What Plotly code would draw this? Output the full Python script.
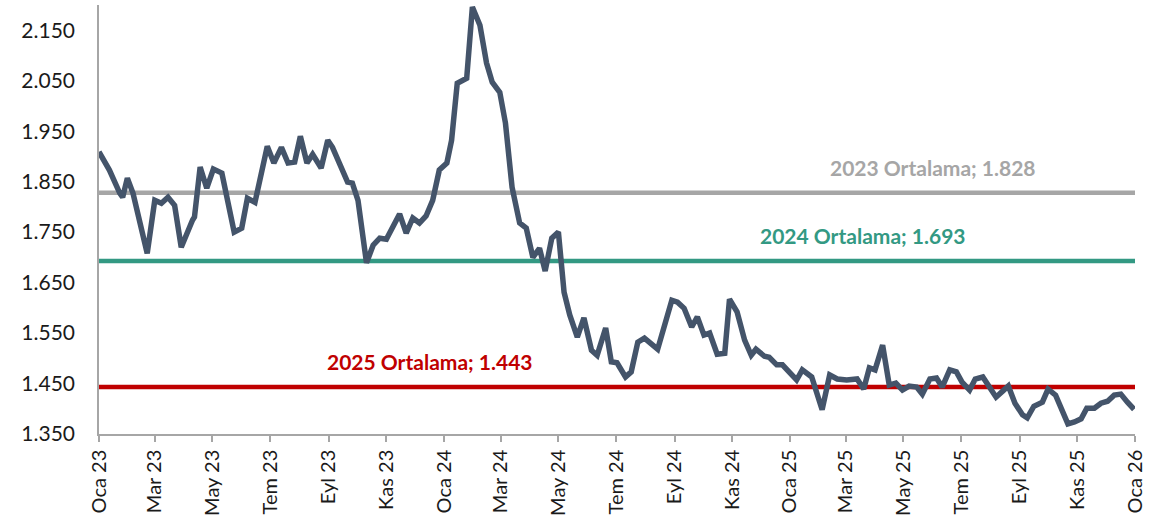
import plotly.graph_objects as go

dates = [
    "2023-01-01", "2023-01-12", "2023-01-23", "2023-01-26", "2023-01-31", "2023-02-06", "2023-02-21",
    "2023-03-01", "2023-03-08", "2023-03-15", "2023-03-22", "2023-03-29", "2023-04-10", "2023-04-12",
    "2023-04-18", "2023-04-25", "2023-05-02", "2023-05-11", "2023-05-24", "2023-06-01", "2023-06-07",
    "2023-06-15", "2023-06-28", "2023-07-05", "2023-07-13", "2023-07-20", "2023-07-27", "2023-08-02",
    "2023-08-09", "2023-08-15", "2023-08-24", "2023-08-31", "2023-09-05", "2023-09-12", "2023-09-21",
    "2023-09-26", "2023-10-02", "2023-10-11", "2023-10-18", "2023-10-25", "2023-11-01", "2023-11-15",
    "2023-11-22", "2023-11-29", "2023-12-06", "2023-12-13", "2023-12-20", "2023-12-27",
    "2024-01-04", "2024-01-09", "2024-01-15", "2024-01-25", "2024-01-31", "2024-02-08", "2024-02-15",
    "2024-02-21", "2024-02-29", "2024-03-06", "2024-03-13", "2024-03-21", "2024-03-28", "2024-04-04",
    "2024-04-11", "2024-04-17", "2024-04-24", "2024-05-01", "2024-05-07", "2024-05-13", "2024-05-21",
    "2024-05-28", "2024-06-05", "2024-06-11", "2024-06-20", "2024-06-26", "2024-07-02", "2024-07-11",
    "2024-07-17", "2024-07-24", "2024-07-31", "2024-08-14", "2024-08-29", "2024-09-04", "2024-09-11",
    "2024-09-19", "2024-09-25", "2024-10-02", "2024-10-08", "2024-10-16", "2024-10-24", "2024-10-29",
    "2024-11-06", "2024-11-14", "2024-11-21", "2024-11-26", "2024-12-05", "2024-12-10", "2024-12-18",
    "2024-12-24",
    "2025-01-02", "2025-01-08", "2025-01-14", "2025-01-24", "2025-02-04", "2025-02-12", "2025-02-20",
    "2025-03-02", "2025-03-13", "2025-03-20", "2025-03-26", "2025-04-01", "2025-04-09", "2025-04-16",
    "2025-04-23", "2025-04-30", "2025-05-07", "2025-05-15", "2025-05-21", "2025-05-29", "2025-06-05",
    "2025-06-11", "2025-06-19", "2025-06-26", "2025-07-02", "2025-07-10", "2025-07-16", "2025-07-24",
    "2025-07-31", "2025-08-07", "2025-08-14", "2025-08-20", "2025-08-27", "2025-09-04", "2025-09-09",
    "2025-09-16", "2025-09-25", "2025-10-01", "2025-10-09", "2025-10-16", "2025-10-22", "2025-10-29",
    "2025-11-05", "2025-11-11", "2025-11-19", "2025-11-26", "2025-12-03", "2025-12-10", "2025-12-17",
    "2025-12-24", "2025-12-31",
]

values = [
    1.909, 1.873, 1.827, 1.819, 1.857, 1.827, 1.708,
    1.813, 1.807, 1.819, 1.803, 1.720, 1.774, 1.780,
    1.879, 1.837, 1.875, 1.867, 1.750, 1.758, 1.817,
    1.809, 1.920, 1.887, 1.918, 1.887, 1.889, 1.940,
    1.887, 1.904, 1.877, 1.932, 1.918, 1.889, 1.849,
    1.847, 1.813, 1.689, 1.724, 1.738, 1.736, 1.786,
    1.748, 1.778, 1.768, 1.782, 1.813, 1.873,
    1.887, 1.932, 2.045, 2.055, 2.196, 2.160, 2.085,
    2.047, 2.027, 1.966, 1.839, 1.768, 1.758, 1.700,
    1.718, 1.673, 1.738, 1.750, 1.631, 1.586, 1.542,
    1.580, 1.516, 1.506, 1.560, 1.493, 1.491, 1.463,
    1.473, 1.532, 1.540, 1.518, 1.615, 1.611, 1.599,
    1.562, 1.582, 1.546, 1.550, 1.508, 1.510, 1.617,
    1.592, 1.536, 1.506, 1.518, 1.504, 1.502, 1.487,
    1.487,
    1.467, 1.457, 1.477, 1.463, 1.398, 1.467, 1.459,
    1.457, 1.459, 1.439, 1.481, 1.477, 1.526, 1.447,
    1.451, 1.437, 1.445, 1.443, 1.429, 1.459, 1.461,
    1.443, 1.477, 1.473, 1.453, 1.437, 1.459, 1.463,
    1.443, 1.423, 1.435, 1.445, 1.411, 1.388, 1.382,
    1.405, 1.413, 1.439, 1.427, 1.398, 1.370, 1.374,
    1.380, 1.401, 1.401, 1.411, 1.415, 1.427, 1.429,
    1.413, 1.399,
]

avg_labels = ["2023 Ortalama; 1.828", "2024 Ortalama; 1.693", "2025 Ortalama; 1.443"]
avg_values = [1.828, 1.693, 1.443]
avg_colors = ["#A6A6A6", "#339983", "#C00000"]
avg_label_x = ["2025-06-01", "2025-03-19", "2023-12-17"]
line_span = ["2023-01-01", "2026-01-01"]

tick_dates = [
    "2023-01-01", "2023-03-01", "2023-05-01", "2023-07-01", "2023-09-01", "2023-11-01",
    "2024-01-01", "2024-03-01", "2024-05-01", "2024-07-01", "2024-09-01", "2024-11-01",
    "2025-01-01", "2025-03-01", "2025-05-01", "2025-07-01", "2025-09-01", "2025-11-01",
    "2026-01-01",
]
tick_labels = [
    "Oca 23", "Mar 23", "May 23", "Tem 23", "Eyl 23", "Kas 23",
    "Oca 24", "Mar 24", "May 24", "Tem 24", "Eyl 24", "Kas 24",
    "Oca 25", "Mar 25", "May 25", "Tem 25", "Eyl 25", "Kas 25",
    "Oca 26",
]
y_ticks = [1.35, 1.45, 1.55, 1.65, 1.75, 1.85, 1.95, 2.05, 2.15]

FONT = "Lato, Noto Sans, sans-serif"

fig = go.Figure()

for lbl, val, col in zip(avg_labels, avg_values, avg_colors):
    fig.add_trace(go.Scatter(
        x=line_span, y=[val, val], mode="lines",
        line=dict(color=col, width=4.5), hoverinfo="skip", showlegend=False,
    ))

fig.add_trace(go.Scatter(
    x=dates, y=values, mode="lines",
    line=dict(color="#44546A", width=5.5),
    showlegend=False,
))

for lbl, val, col, lx in zip(avg_labels, avg_values, avg_colors, avg_label_x):
    fig.add_annotation(
        x=lx, y=val, text="<b>" + lbl + "</b>", showarrow=False,
        yanchor="bottom", yshift=11,
        font=dict(family=FONT, size=21, color=col),
    )

fig.update_layout(
    width=1173, height=529,
    margin=dict(l=99, r=38, t=5, b=95, autoexpand=False),
    paper_bgcolor="white", plot_bgcolor="white",
    font=dict(family=FONT, size=21, color="#1a1a1a"),
)
fig.update_xaxes(
    type="date", range=["2023-01-01", "2026-01-01"],
    tickmode="array", tickvals=tick_dates, ticktext=tick_labels,
    tickangle=-90, ticks="outside", ticklen=6, tickcolor="#A6A6A6", tickwidth=1.5,
    showline=True, linecolor="#A6A6A6", linewidth=1.5, showgrid=False, zeroline=False,
    tickfont=dict(size=20), automargin=False,
)
fig.update_yaxes(
    range=[1.35, 2.2], tickmode="array", tickvals=y_ticks, tickformat=".3f",
    showline=True, linecolor="#A6A6A6", linewidth=1.5, showgrid=False, zeroline=False,
    ticks="", ticklabelstandoff=18, automargin=False,
    tickfont=dict(size=21),
)

fig.write_html(
    "out.html",
    config={"displayModeBar": False},
    post_script="document.body.style.margin='0px';",
)
